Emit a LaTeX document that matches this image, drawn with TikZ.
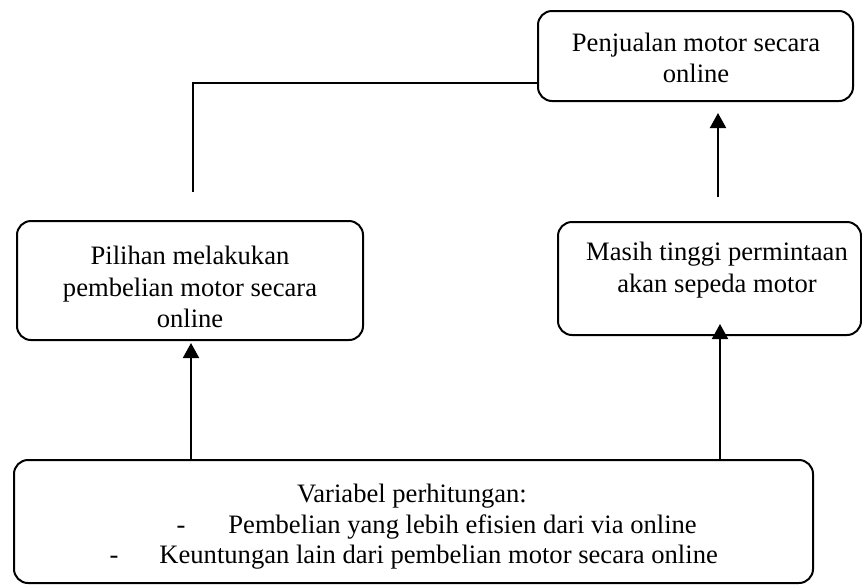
\documentclass[tikz,border=0pt]{standalone}
\usepackage{fontspec}
\setmainfont{Liberation Serif}
\usetikzlibrary{arrows.meta}
\begin{document}
\begin{tikzpicture}[x=0.5pt,y=-0.5pt,
  box/.style={draw, line width=1pt, rounded corners=7pt, inner sep=0pt},
  txt/.style={align=center, font=\fontsize{13.3pt}{15.75pt}\selectfont, inner sep=0pt},
  ln/.style={line width=1pt},
  arr/.style={line width=1pt, -{Triangle[width=8pt,length=7.5pt]}}]
\useasboundingbox (0,0) rectangle (862,585);
% boxes
\node[box, minimum width=157.5pt, minimum height=45pt] (top) at (695.5,56) {};
\node[box, minimum width=173pt, minimum height=59.5pt] (leftbox) at (190,280.5) {};
\node[box, minimum width=151.5pt, minimum height=56.5pt] (rightbox) at (709.5,278.5) {};
\node[box, minimum width=399.5pt, minimum height=61.5pt] (bottom) at (413.5,521.5) {};
% texts
\node[txt] (toptxt) at (696,58) {Penjualan motor secara\\online};
\node[txt] (lefttxt) at (190,287) {Pilihan melakukan\\pembelian motor secara\\online};
\node[txt] (righttxt) at (717,270) {Masih tinggi permintaan\\akan sepeda motor};
\node[txt, anchor=base] (b1) at (412,502) {Variabel perhitungan:};
\node[txt, anchor=base] (d2) at (181,533) {-};
\node[txt, anchor=base west] (b2) at (228,533) {Pembelian yang lebih efisien dari via online};
\node[txt, anchor=base] (d3) at (114,563) {-};
\node[txt, anchor=base west] (b3) at (159,563) {Keuntungan lain dari pembelian motor secara online};
% free ends
\coordinate (c1) at (193,192);
\coordinate (a1s) at (718,197);
\coordinate (a1e) at (718,113);
\coordinate (l1s) at (191,460);
\coordinate (l1e) at (191,343);
\coordinate (r1s) at (720,460);
\coordinate (r1e) at (720,324);
% connectors
\draw[ln] (c1) |- ([yshift=-13.5pt]top.west);
\draw[arr] (a1s) -- (a1e);
\draw[arr] (l1s) -- (l1e);
\draw[arr] (r1s) -- (r1e);
\end{tikzpicture}
\end{document}
